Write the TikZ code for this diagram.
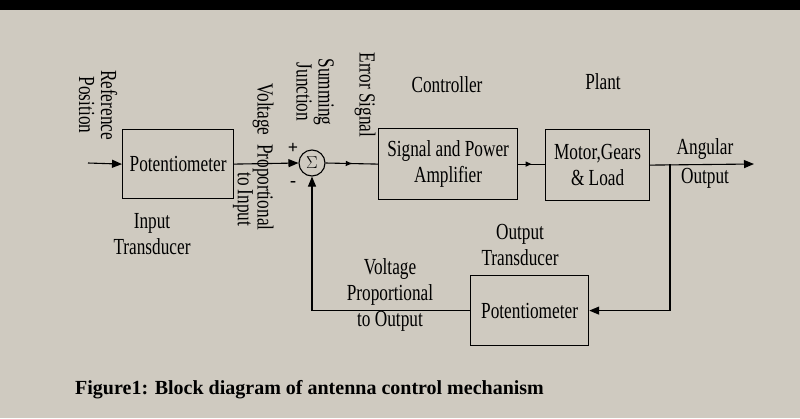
\documentclass[tikz,border=0pt]{standalone}
\usepackage{fontspec}
\setmainfont{Liberation Serif}
\newfontfamily\cond[FakeStretch=0.75]{Liberation Serif}
\usetikzlibrary{arrows.meta,decorations.markings}
\definecolor{bg}{RGB}{207,202,192}
\begin{document}
\begin{tikzpicture}[x=1pt,y=-1pt,
  txt/.style={font=\cond\fontsize{23}{22}\selectfont,align=center,inner sep=0pt},
  ln/.style={line width=1.1pt},
  tip/.style={-{Triangle[length=10pt,width=8pt]}},
  midtip/.style={postaction={decorate},decoration={markings,mark=at position 0.5 with {\arrow{Triangle[length=6pt,width=5pt]}}}}]
\fill[bg] (0,0) rectangle (800,418);
\fill[black] (0,0) rectangle (800,10);
\useasboundingbox (0,0) rectangle (800,418);
% blocks
\node[draw,line width=1.2pt,minimum width=111pt,minimum height=69pt,anchor=north west] (pot1) at (122,129) {};
\node[txt] at (pot1.center) {Potentiometer};
\node[draw,circle,line width=1.1pt,minimum size=26pt,inner sep=0pt] (sum) at (312,163) {};
\node[font=\fontsize{17}{17}\selectfont] at (sum) {$\Sigma$};
\node[draw,line width=1.2pt,minimum width=139pt,minimum height=71pt,anchor=north west] (amp) at (378,128) {};
\node[txt] at (amp.center) {Signal and Power\\[4pt]Amplifier};
\node[draw,line width=1.2pt,minimum width=104pt,minimum height=71pt,anchor=north west] (mot) at (545,129) {};
\node[txt] at (mot.center) {Motor,Gears\\[4pt]\&\ Load};
\node[draw,line width=1.2pt,minimum width=118pt,minimum height=70pt,anchor=north west] (pot2) at (470,275) {};
\node[txt] at (pot2.center) {Potentiometer};
\coordinate (in) at (88,163);
\coordinate (out) at (754,164);
\coordinate (br) at (670,164);
% connectors
\draw[ln,tip] (in) -- (pot1.west);
\draw[ln,tip] (pot1.east) -- (sum.west);
\draw[ln,midtip] (sum.east) -- (amp.west);
\draw[ln,midtip] (amp.east) -- (mot.west|-amp.east);
\draw[ln,tip] (mot.east) -- (out);
\draw[ln,tip] (br) |- (pot2.east);
\draw[ln,tip] (pot2.west) -| (sum.south);
% labels
\node[txt,rotate=-90] at (98,105) {Reference\\Position};
\node[txt] at (152,234) {Input\\[4pt]Transducer};
\node[txt,rotate=-90,anchor=west] at (263,83) {Voltage\ \ Proportional};
\node[txt,rotate=-90,anchor=west] at (243,172) {to Input};
\node[font=\fontsize{18}{18}\selectfont\bfseries] at (293,148) {+};
\node[font=\fontsize{18}{18}\selectfont\bfseries] at (293,184) {-};
\node[txt,rotate=-90] at (315,92) {Summing\\Junction};
\node[txt,rotate=-90] at (365,95) {Error Signal};
\node[txt] at (447,85) {Controller};
\node[txt] at (603,82) {Plant};
\node[txt] at (705,163) {Angular\\[7pt]Output};
\node[txt] at (520,245) {Output\\[4pt]Transducer};
\node[txt] at (390,295) {Voltage\\[4pt]Proportional\\[4pt]to Output};
\node[font=\fontsize{20}{22}\selectfont\bfseries,anchor=west,inner sep=0pt] at (75,390) {Figure1: Block diagram of antenna control mechanism};
\end{tikzpicture}
\end{document}
